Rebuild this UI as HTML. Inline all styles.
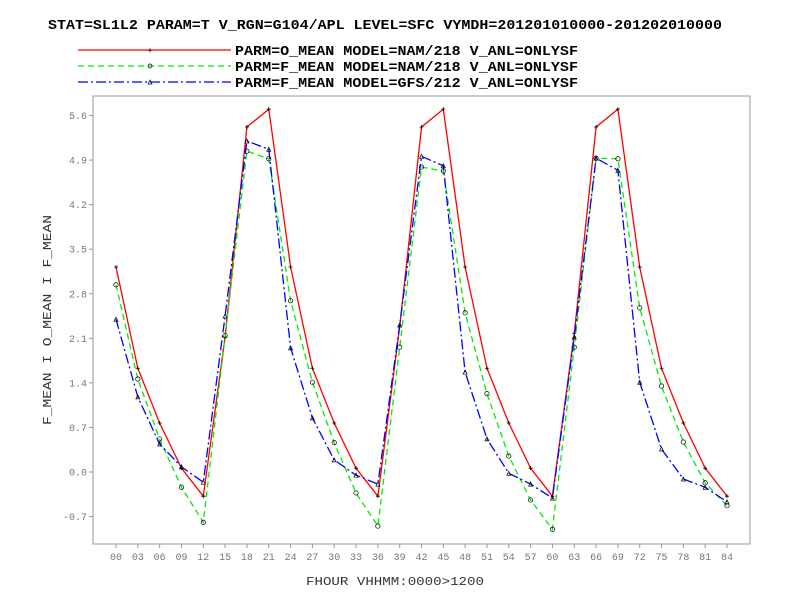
<!DOCTYPE html>
<html><head><meta charset="utf-8"><style>
body{margin:0;background:#fff}
svg{display:block}
text{font-family:"Liberation Mono",monospace}
</style></head><body>
<svg id="c" width="792" height="612" xmlns="http://www.w3.org/2000/svg">
<text x="48" y="29" font-size="14" font-weight="bold" textLength="674" lengthAdjust="spacingAndGlyphs">STAT=SL1L2 PARAM=T V_RGN=G104/APL LEVEL=SFC VYMDH=201201010000-201202010000</text>
<g>
<g>
<line x1="78" y1="50" x2="231" y2="50" stroke="#f00" stroke-width="1.3"/>
<text x="150" y="53.5" font-size="9" text-anchor="middle">+</text>
<text x="235" y="55" font-size="14" font-weight="bold" textLength="343" lengthAdjust="spacingAndGlyphs">PARM=O_MEAN MODEL=NAM/218 V_ANL=ONLYSF</text></g>
<g>
<line x1="78" y1="66" x2="231" y2="66" stroke="#0e0" stroke-width="1.3" stroke-dasharray="6,4"/>
<circle cx="150" cy="66" r="2" fill="none" stroke="#000" stroke-width="0.7"/>
<text x="235" y="71" font-size="14" font-weight="bold" textLength="343" lengthAdjust="spacingAndGlyphs">PARM=F_MEAN MODEL=NAM/218 V_ANL=ONLYSF</text></g>
<g>
<line x1="78" y1="82" x2="231" y2="82" stroke="#00f" stroke-width="1.3" stroke-dasharray="10,3,2,3"/>
<path d="M148,84 L150,80 L152,84 Z" fill="none" stroke="#000" stroke-width="0.7"/>
<text x="235" y="87" font-size="14" font-weight="bold" textLength="343" lengthAdjust="spacingAndGlyphs">PARM=F_MEAN MODEL=GFS/212 V_ANL=ONLYSF</text></g>
</g>
<rect x="93" y="96" width="657" height="448" fill="none" stroke="#999" stroke-width="1"/>
<g id="axes"></g>
<g id="series"></g>
<text x="395" y="585" font-size="12" fill="#333" text-anchor="middle" textLength="178" lengthAdjust="spacingAndGlyphs">FHOUR VHHMM:0000&gt;1200</text>
<text transform="translate(51,320) rotate(-90)" font-size="12" fill="#333" text-anchor="middle" textLength="210" lengthAdjust="spacingAndGlyphs">F_MEAN I O_MEAN I F_MEAN</text>
</svg>
<script>
const categories=["00","03","06","09","12","15","18","21","24","27","30","33","36","39","42","45","48","51","54","57","60","63","66","69","72","75","78","81","84"];
const yTicks=[-0.7,0.0,0.7,1.4,2.1,2.8,3.5,4.2,4.9,5.6];
const yTickLabels=["-0.7","0.0","0.7","1.4","2.1","2.8","3.5","4.2","4.9","5.6"];
const oMeanNam=[3.22,1.63,0.77,0.06,-0.38,2.12,5.42,5.70,3.22,1.63,0.77,0.06,-0.38,2.28,5.42,5.70,3.22,1.63,0.77,0.06,-0.38,2.18,5.42,5.70,3.22,1.63,0.77,0.06,-0.38];
const fMeanNam=[2.94,1.46,0.52,-0.24,-0.79,2.14,5.04,4.92,2.69,1.41,0.46,-0.33,-0.85,1.96,4.79,4.73,2.50,1.23,0.25,-0.44,-0.90,1.96,4.93,4.92,2.58,1.35,0.47,-0.17,-0.53];
const fMeanGfs=[2.40,1.18,0.44,0.08,-0.16,2.45,5.20,5.07,1.95,0.85,0.19,-0.05,-0.19,2.31,4.96,4.81,1.57,0.52,-0.02,-0.19,-0.41,2.12,4.93,4.74,1.41,0.36,-0.11,-0.24,-0.47];
const NS='http://www.w3.org/2000/svg';
const x0=116,x1=727,y0=472,perUnit=44.56/0.7;
function xS(i){return x0+i*(x1-x0)/(categories.length-1);}
function yS(v){return y0-v*perUnit;}
function mk(tag,attrs,parent){const e=document.createElementNS(NS,tag);for(const k in attrs)e.setAttribute(k,attrs[k]);parent.appendChild(e);return e;}
const axes=document.getElementById('axes');
categories.forEach((c,i)=>{
  const t=mk('line',{x1:xS(i),x2:xS(i),y1:544,y2:548,stroke:'#999'},axes);
  
  
  const l=mk('text',{x:xS(i),y:560,'font-size':10,fill:'#777','text-anchor':'middle'},axes);
  
  
  l.textContent=c;
});
yTicks.forEach((v,i)=>{
  const t=mk('line',{x1:89,x2:93,y1:yS(v),y2:yS(v),stroke:'#999'},axes);
  
  
  const l=mk('text',{x:87,y:yS(v)+3.5,'font-size':10,fill:'#777','text-anchor':'end'},axes);
  
  
  l.textContent=yTickLabels[i];
});
const sg=document.getElementById('series');
function series(vals,color,dash,marker,name){
  const g=mk('g',{},sg);
  
  
  const pts=vals.map((v,i)=>xS(i).toFixed(1)+','+yS(v).toFixed(1)).join(' ');
  const pl=mk('polyline',{points:pts,fill:'none',stroke:color,'stroke-width':1.3,'stroke-dasharray':dash},g);
  
  
  vals.forEach((v,i)=>{
    const x=xS(i),y=yS(v);let m;
    if(marker==='plus'){m=mk('path',{d:`M${x-2},${y}H${x+2}M${x},${y-2}V${y+2}`,stroke:'#000','stroke-width':0.8},g);}
    else if(marker==='circle'){m=mk('circle',{cx:x,cy:y,r:2.2,fill:'none',stroke:'#000','stroke-width':0.7},g);}
    else{m=mk('path',{d:`M${x-2},${y+2}L${x},${y-2}L${x+2},${y+2}Z`,fill:'none',stroke:'#000','stroke-width':0.7},g);}
    
    
  });
}
series(oMeanNam,'#f00','none','plus','series-o-mean-nam');
series(fMeanNam,'#0e0','6,4','circle','series-f-mean-nam');
series(fMeanGfs,'#00f','10,3,2,3','tri','series-f-mean-gfs');
</script>
</body></html>
